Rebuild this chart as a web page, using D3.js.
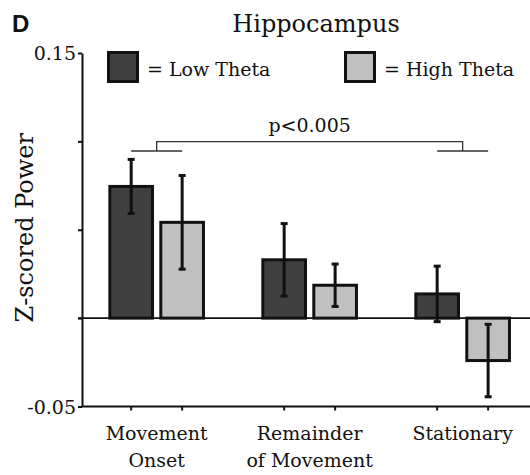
<!DOCTYPE html>
<html>
<head>
<meta charset="utf-8">
<script src="https://cdn.jsdelivr.net/npm/d3@7"></script>
<style>
  html, body { margin: 0; padding: 0; background: #fff; }
  svg { display: block; }
  text { font-family: "DejaVu Serif", serif; fill: #111; }
</style>
</head>
<body>
<svg id="chart" width="530" height="475"></svg>
<script>
// Hippocampal power by movement epoch, split by theta state
const categories = ["Movement Onset", "Remainder of Movement", "Stationary"];
const categoryLines = [["Movement", "Onset"], ["Remainder", "of Movement"], ["Stationary"]];
const seriesNames = ["Low Theta", "High Theta"];
const seriesColors = ["#404040", "#c0c0c0"];
const lowTheta = [0.0745, 0.0330, 0.0137];
const highTheta = [0.0542, 0.0186, -0.0240];
const lowThetaErr = [0.0153, 0.0205, 0.0157];
const highThetaErr = [0.0265, 0.0120, 0.0205];
const yTicks = [-0.05, 0, 0.05, 0.10, 0.15];
const yTickLabels = { "-0.05": "-0.05", "0.15": "0.15" };
const title = "Hippocampus";
const yLabel = "Z-scored Power";
const sigLabel = "p<0.005";

const rows = [];
categories.forEach((c, i) => {
  rows.push({ cat: c, series: seriesNames[0], value: lowTheta[i], err: lowThetaErr[i], color: seriesColors[0] });
  rows.push({ cat: c, series: seriesNames[1], value: highTheta[i], err: highThetaErr[i], color: seriesColors[1] });
});

const svg = d3.select("#chart");
const axisX = 82, rightEdge = 530;

const y = d3.scaleLinear().domain([-0.05, 0.15]).range([406.5, 53]);
const x0 = d3.scaleBand().domain(categories).range([axisX, 537.3])
  .paddingInner(0.388).paddingOuter(0.182);
const x1 = d3.scaleBand().domain(seriesNames).range([0, x0.bandwidth()])
  .paddingInner(0.163).paddingOuter(0);
const barCenter = d => x0(d.cat) + x1(d.series) + x1.bandwidth() / 2;

// panel letter and title
svg.append("text").attr("x", 12).attr("y", 32)
  .style("font-family", "'Liberation Sans', Arial, sans-serif")
  .style("font-weight", "bold").style("font-size", "24px").text("D");
svg.append("text").attr("x", 316).attr("y", 32).attr("text-anchor", "middle")
  .style("font-size", "24px").text(title);

// y axis label
svg.append("text")
  .attr("transform", `translate(33,${(y(0.15) + y(-0.05)) / 2 - 2}) rotate(-90)`)
  .attr("text-anchor", "middle").style("font-size", "24px").text(yLabel);

// bars
svg.append("g").selectAll("rect").data(rows).join("rect")
  .attr("x", d => x0(d.cat) + x1(d.series))
  .attr("width", x1.bandwidth())
  .attr("y", d => y(Math.max(0, d.value)))
  .attr("height", d => Math.abs(y(d.value) - y(0)))
  .attr("fill", d => d.color)
  .attr("stroke", "#111").attr("stroke-width", 3);

// zero line
svg.append("line").attr("x1", axisX - 4).attr("x2", rightEdge)
  .attr("y1", y(0)).attr("y2", y(0))
  .attr("stroke", "#111").attr("stroke-width", 1.6);

// error bars
const eb = svg.append("g").attr("stroke", "#111").attr("stroke-width", 3);
eb.selectAll("line.stem").data(rows).join("line").attr("class", "stem")
  .attr("x1", barCenter).attr("x2", barCenter)
  .attr("y1", d => y(d.value + d.err)).attr("y2", d => y(d.value - d.err));
eb.selectAll("line.capTop").data(rows).join("line").attr("class", "capTop")
  .attr("x1", d => barCenter(d) - 3.5).attr("x2", d => barCenter(d) + 3.5)
  .attr("y1", d => y(d.value + d.err)).attr("y2", d => y(d.value + d.err));
eb.selectAll("line.capBot").data(rows).join("line").attr("class", "capBot")
  .attr("x1", d => barCenter(d) - 3.5).attr("x2", d => barCenter(d) + 3.5)
  .attr("y1", d => y(d.value - d.err)).attr("y2", d => y(d.value - d.err));

// y axis
const yAxis = d3.axisLeft(y).tickValues(yTicks).tickSize(4).tickSizeOuter(0)
  .tickFormat(v => yTickLabels[String(v)] || "");
const gy = svg.append("g").attr("transform", `translate(${axisX},0)`).call(yAxis);
gy.select(".domain").attr("stroke", "#111").attr("stroke-width", 2);
gy.selectAll(".tick line").attr("stroke", "#111").attr("stroke-width", 2);
gy.selectAll(".tick text").style("font-family", "'DejaVu Serif', serif")
  .style("font-size", "19px").attr("fill", "#111").attr("x", -6).attr("dy", "0.36em");

// x axis baseline with a tick under every bar
const gx = svg.append("g");
gx.append("line").attr("x1", axisX).attr("x2", rightEdge)
  .attr("y1", y(-0.05)).attr("y2", y(-0.05))
  .attr("stroke", "#111").attr("stroke-width", 2);
gx.selectAll("line.xt").data(rows).join("line").attr("class", "xt")
  .attr("x1", barCenter).attr("x2", barCenter)
  .attr("y1", y(-0.05)).attr("y2", y(-0.05) + 4)
  .attr("stroke", "#111").attr("stroke-width", 2);

// category labels
categories.forEach((c, i) => {
  const cx = x0(c) + x0.bandwidth() / 2;
  const t = svg.append("text").attr("text-anchor", "middle").style("font-size", "19px");
  categoryLines[i].forEach((ln, j) => {
    t.append("tspan").attr("x", cx).attr("y", 440 + j * 27).text(ln);
  });
});

// significance bracket between Movement Onset and Stationary
const first = categories[0], last = categories[categories.length - 1];
const groupCenter = c => x0(c) + x0.bandwidth() / 2;
const seriesCenter = (c, s) => x0(c) + x1(s) + x1.bandwidth() / 2;
const topY = 141.7, armY = 151;
const br = svg.append("g").attr("stroke", "#333").attr("stroke-width", 1.3).attr("fill", "none");
br.append("path").attr("d",
  `M${groupCenter(first)},${armY}V${topY}H${groupCenter(last)}V${armY}`);
[first, last].forEach(c => {
  br.append("line")
    .attr("x1", seriesCenter(c, seriesNames[0])).attr("x2", seriesCenter(c, seriesNames[1]))
    .attr("y1", armY).attr("y2", armY);
});
svg.append("text").attr("x", (groupCenter(first) + groupCenter(last)) / 2).attr("y", 132)
  .attr("text-anchor", "middle").style("font-size", "19px").text(sigLabel);

// legend
const legendX = [108.5, 345.5];
seriesNames.forEach((s, i) => {
  const g = svg.append("g").attr("transform", `translate(${legendX[i]},52.5)`);
  g.append("rect").attr("width", 29).attr("height", 29)
    .attr("fill", seriesColors[i]).attr("stroke", "#111").attr("stroke-width", 3);
  g.append("text").attr("x", 38.5).attr("y", 23.5).style("font-size", "19px").text("= " + s);
});
</script>
</body>
</html>
